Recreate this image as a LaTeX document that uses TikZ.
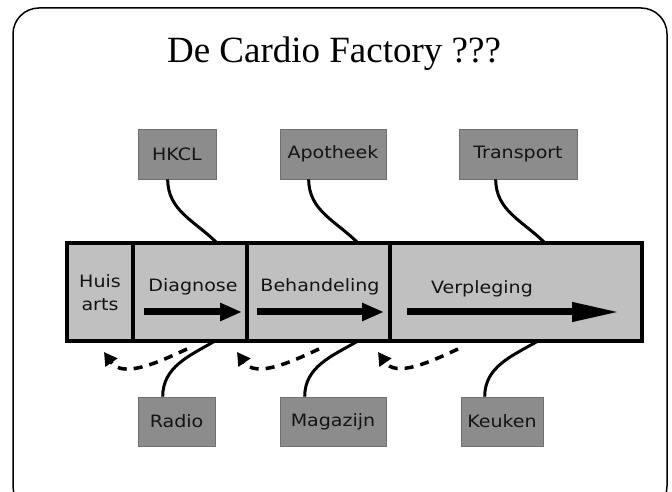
\documentclass[tikz,border=0pt]{standalone}
\usepackage{fontspec}
\setmainfont{Liberation Serif}
\newfontfamily\comicfont[FakeStretch=1.12]{DejaVu Sans}
\usetikzlibrary{arrows.meta,positioning}
\definecolor{boxgrey}{RGB}{140,140,140}
\definecolor{barfill}{RGB}{192,192,192}
\definecolor{inkgrey}{RGB}{20,20,20}
\tikzset{
  cell/.style={draw=black,line width=3.5pt,fill=barfill,minimum height=98pt,inner sep=0pt,outer sep=0pt},
  sidebox/.style={fill=boxgrey,draw=boxgrey!80!black,line width=0.6pt,minimum height=50pt,inner sep=0pt,font=\comicfont\fontsize{17}{20}\selectfont,text=inkgrey},
  lbl/.style={font=\comicfont\fontsize{17}{23}\selectfont,text=inkgrey,align=center},
  flow/.style={line width=7pt,-{Triangle[length=22pt,width=17pt]}},
  link/.style={line width=3pt},
  feedback/.style={line width=3.5pt,dash pattern=on 9pt off 7pt,-{Triangle[length=13pt,width=14pt]}}
}
\begin{document}
\begin{tikzpicture}[x=1pt,y=1pt]
	\useasboundingbox (0,0) rectangle (672,492);
	\clip (0,0) rectangle (672,492);
	\draw[line width=1.5pt,rounded corners=26pt] (13,-20) rectangle (667,484);
	\node[font=\fontsize{37}{44}\selectfont,anchor=base] (title) at (334,429) {De Cardio Factory ???};
	\node[cell,minimum width=66pt] (huis) at (100,200) {};
	\node[cell,minimum width=114pt,right=0pt of huis] (diag) {};
	\node[cell,minimum width=143pt,right=0pt of diag] (behan) {};
	\node[cell,minimum width=252pt,right=0pt of behan] (verpl) {};
	\node[lbl] (huislbl) at (100,199) {Huis\\arts};
	\node[lbl] (diaglbl) at (193,205) {Diagnose};
	\node[lbl] (behanlbl) at (320,205) {Behandeling};
	\node[lbl] (verpllbl) at (482,203) {Verpleging};
	\coordinate (d0) at (144,180);
	\coordinate (d1) at (242,180);
	\coordinate (b0) at (257,180);
	\coordinate (b1) at (384,180);
	\coordinate (v0) at (407,180);
	\coordinate (v1) at (620,180);
	\draw[flow] (d0) -- (d1);
	\draw[flow] (b0) -- (b1);
	\draw[flow,-{Triangle[length=48pt,width=18pt]}] (v0) -- (v1);
	\node[sidebox,minimum width=78pt] (hkcl) at (177,338) {HKCL};
	\node[sidebox,minimum width=106pt] (apotheek) at (333,338) {Apotheek};
	\node[sidebox,minimum width=118pt] (transport) at (518,338) {Transport};
	\node[sidebox,minimum width=77pt,minimum height=49pt] (radio) at (176.5,70.5) {Radio};
	\node[sidebox,minimum width=106pt,minimum height=49pt] (magazijn) at (333,70.5) {Magazijn};
	\node[sidebox,minimum width=82pt,minimum height=49pt] (keuken) at (502,70.5) {Keuken};
	\draw[link] ([xshift=30pt]hkcl.south west) to[out=-90,in=135] ([xshift=27pt]diag.north);
	\draw[link] ([xshift=29pt]apotheek.south west) to[out=-90,in=135] ([xshift=39.5pt]behan.north);
	\draw[link] ([xshift=37pt]transport.south west) to[out=-90,in=135] ([xshift=29pt]verpl.north);
	\draw[link] ([xshift=25pt]radio.north west) to[out=90,in=-150] ([xshift=25pt]diag.south);
	\draw[link] ([xshift=25pt]magazijn.north west) to[out=90,in=-150] ([xshift=39.5pt]behan.south);
	\draw[link] ([xshift=24pt]keuken.north west) to[out=90,in=-150] ([xshift=22pt]verpl.south);
	\draw[feedback] ([shift={(-3pt,-8pt)}]diag.south) to[out=-155,in=-55] ([shift={(4pt,-11pt)}]huis.south);
	\draw[feedback] ([shift={(0.5pt,-8pt)}]behan.south) to[out=-155,in=-55] ([shift={(47pt,-11pt)}]diag.south);
	\draw[feedback] ([shift={(-58pt,-8pt)}]verpl.south) to[out=-155,in=-55] ([shift={(59.5pt,-11pt)}]behan.south);
\end{tikzpicture}
\end{document}
